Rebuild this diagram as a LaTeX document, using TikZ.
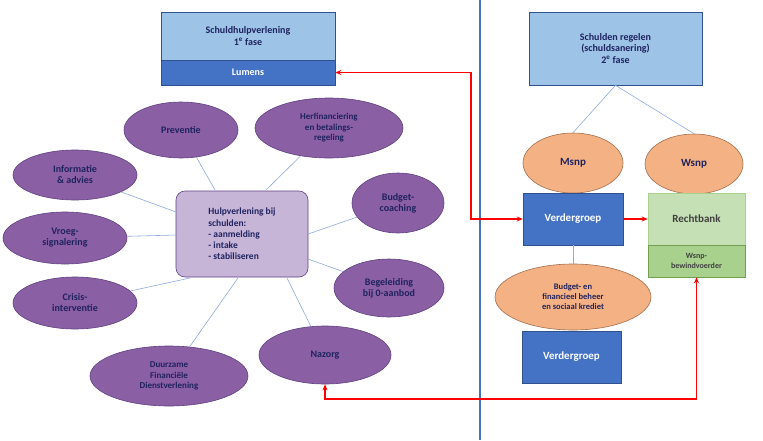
\documentclass[tikz,border=0pt]{standalone}
\usepackage{fontspec}
\setmainfont{Carlito}
\usetikzlibrary{shapes.geometric,arrows.meta}
\definecolor{navy}{HTML}{1F2360}
\definecolor{purp}{HTML}{8B5FA3}
\definecolor{purpd}{HTML}{5E4282}
\definecolor{lblue}{HTML}{9DC3E6}
\definecolor{mblue}{HTML}{4472C4}
\definecolor{dblue}{HTML}{2F528F}
\definecolor{orng}{HTML}{F4B183}
\definecolor{orngd}{HTML}{A07050}
\definecolor{lgrn}{HTML}{C5E0B4}
\definecolor{mgrn}{HTML}{A9D18E}
\definecolor{grnd}{HTML}{70A050}
\definecolor{lilac}{HTML}{C7B5D8}
\definecolor{spoke}{HTML}{8FAADC}
\tikzset{
 el/.style={ellipse,draw=purpd,fill=purp,text=navy,font=\bfseries\fontsize{10}{11}\selectfont,align=center,inner sep=0pt,line width=0.6pt},
 oel/.style={ellipse,draw=orngd,fill=orng,text=navy,font=\bfseries\fontsize{10}{11}\selectfont,align=center,inner sep=0pt,line width=0.6pt},
 bx/.style={rectangle,draw=dblue,line width=0.6pt,align=center,inner sep=0pt,font=\bfseries\fontsize{10}{11.5}\selectfont},
 sp/.style={draw=spoke,line width=0.6pt},
 red/.style={draw=red,line width=1.2pt,{Stealth[length=6pt,width=5pt]}-{Stealth[length=6pt,width=5pt]}},
}
\begin{document}
\begin{tikzpicture}[x=1pt,y=-1pt]
\useasboundingbox (0,0) rectangle (763,440);
\fill[white] (0,0) rectangle (763,440);
\draw[mblue,line width=1.2pt] (480,0) -- (480,440);
% left top box
\node[bx,fill=lblue,text=navy,minimum width=174pt,minimum height=48pt] (s1) at (248,36) {Schuldhulpverlening\\1\textsuperscript{e} fase};
\node[bx,fill=mblue,text=white,minimum width=174pt,minimum height=25pt] (lum) at (248,72.5) {Lumens};
% right top box
\node[bx,fill=lblue,text=navy,minimum width=173pt,minimum height=73pt] (s2) at (615.5,48.5) {Schulden regelen\\(schuldsanering)\\2\textsuperscript{e} fase};
% central
\node[rectangle,rounded corners=9pt,draw=purpd,fill=lilac,text=navy,line width=0.6pt,minimum width=132pt,minimum height=86pt,font=\bfseries\fontsize{9.5}{11.2}\selectfont,align=left,inner sep=6pt] (c) at (242,234) {Hulpverlening bij\\schulden:\\- aanmelding\\- intake\\- stabiliseren\hspace*{1.2em}};
\node[el,minimum width=114pt,minimum height=56pt] (pre) at (181,130) {Preventie};
\node[el,minimum width=148pt,minimum height=60pt,font=\bfseries\fontsize{9}{10.5}\selectfont] (her) at (329,128) {Herfinanciering\\en betalings-\\regeling};
\node[el,minimum width=124pt,minimum height=50pt] (inf) at (75,175) {Informatie\\\& advies};
\node[el,minimum width=124pt,minimum height=52pt] (vro) at (65,238) {Vroeg-\\signalering};
\node[el,minimum width=124pt,minimum height=52pt] (cri) at (75,303) {Crisis-\\interventie};
\node[el,minimum width=158pt,minimum height=60pt,font=\bfseries\fontsize{9}{10.5}\selectfont] (duu) at (169,376) {Duurzame\\Financiële\\Dienstverlening};
\node[el,minimum width=132pt,minimum height=58pt] (naz) at (325,355) {Nazorg};
\node[el,minimum width=92pt,minimum height=60pt] (bud) at (398,203) {Budget-\\coaching};
\node[el,minimum width=110pt,minimum height=58pt] (beg) at (389,288) {Begeleiding\\bij 0-aanbod};
\foreach \n/\a in {pre/113,her/76,inf/160,vro/176,cri/203,duu/238,naz/300,bud/8,beg/350}{
  \path (c.\a) coordinate (c\n);
}
\draw[sp] (215,190) -- (pre);
\draw[sp] (266,190) -- (her);
\draw[sp] (176,212) -- (inf);
\draw[sp] (176,235) -- (vro);
\draw[sp] (190,278) -- (cri);
\draw[sp] (238,278) -- (duu);
\draw[sp] (287,278) -- (naz);
\draw[sp] (308,234) -- (bud);
\draw[sp] (308,259) -- (beg);
% right side
\node[oel,minimum width=100pt,minimum height=60pt,font=\bfseries\fontsize{11}{12}\selectfont] (msnp) at (573,163) {Msnp};
\node[oel,minimum width=98pt,minimum height=60pt,font=\bfseries\fontsize{11}{12}\selectfont] (wsnp) at (694,164) {Wsnp};
\node[bx,fill=mblue,text=white,minimum width=100pt,minimum height=52pt,font=\bfseries\fontsize{11}{12}\selectfont] (v1) at (573,219) {Verdergroep};
\node[bx,draw=mgrn,fill=lgrn,text=black!75,minimum width=97pt,minimum height=52pt,font=\bfseries\fontsize{11}{12}\selectfont] (rb) at (696.5,219) {Rechtbank};
\node[bx,draw=grnd,fill=mgrn,text=black!75,minimum width=97pt,minimum height=32pt,font=\bfseries\fontsize{8}{10}\selectfont] (wb) at (696.5,261) {Wsnp-\\bewindvoerder};
\node[oel,minimum width=156pt,minimum height=66pt,font=\bfseries\fontsize{8.5}{10}\selectfont] (bfb) at (573,297) {Budget- en\\financieel beheer\\en sociaal krediet};
\node[bx,fill=mblue,text=white,minimum width=99pt,minimum height=52pt,font=\bfseries\fontsize{11}{12}\selectfont] (v2) at (571.5,357) {Verdergroep};
\draw[sp] (s2.south) -- (msnp.north);
\draw[sp] (s2.south) -- (wsnp.north);
\draw[sp] (v1.south) -- (bfb.north);
% red connectors
\draw[red] (lum.east) -- (471,72.5) |- (v1.west);
\draw[red] (naz.south) |- (696.5,399) -- (wb.south);
\draw[draw=red,line width=1.2pt,-{Stealth[length=6pt,width=5pt]}] (v1.east) -- (rb.west);
\end{tikzpicture}
\end{document}
